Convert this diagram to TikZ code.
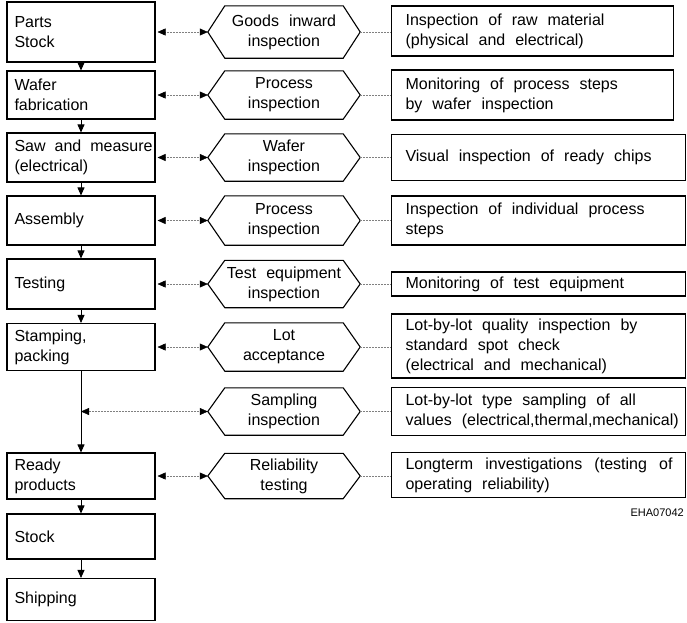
\documentclass[tikz,border=0pt]{standalone}
\usepackage{fontspec}
\setmainfont{Liberation Sans}
\usetikzlibrary{arrows.meta}
\newcommand\diafont{\fontsize{16}{20}\selectfont\spaceskip=10pt plus 2pt minus 1pt\relax}
\begin{document}
\begin{tikzpicture}[x=1pt,y=-1pt,
  every node/.style={font=\diafont},
  lbox/.style={draw, line width=1.1pt, text width=148pt, inner xsep=0pt, inner ysep=0pt, align=left,
     execute at begin node={\leftskip=7.5pt\spaceskip=9pt plus 2pt minus 1pt\relax}},
  hexa/.style={minimum width=118pt, inner sep=0pt, align=center},
  rboxa/.style={draw, line width=1.1pt, anchor=west, text width=282pt, inner xsep=0pt, inner ysep=0pt, align=left,
     execute at begin node={\leftskip=14pt\spaceskip=10pt plus 2pt minus 1pt\relax}},
  rboxb/.style={rboxa, text width=294pt},
  hexline/.style={line width=1.1pt, line join=miter},
  flow/.style={line width=0.8pt, -{Triangle[length=8pt,width=7pt]}},
  dbl/.style={gray, line width=0.5pt, densely dotted, shorten <=2pt,
     {Triangle[length=8pt,width=7pt,color=black]}-{Triangle[length=8pt,width=7pt,color=black]}},
  lnk/.style={gray, line width=0.5pt, dash pattern=on 2pt off 1pt}
]
\useasboundingbox (0,0) rectangle (687,622);

% left column
\node[lbox, minimum height=60pt] (b1) at (81,32) {Parts\\Stock};
\node[lbox, minimum height=48pt] (b2) at (81,95) {Wafer\\fabrication};
\node[lbox, minimum height=49pt] (b3) at (81,157.5) {Saw and measure\\(electrical)};
\node[lbox, minimum height=49pt] (b4) at (81,220.5) {Assembly};
\node[lbox, minimum height=50pt] (b5) at (81,284) {Testing};
\node[lbox, minimum height=47pt] (b6) at (81,347) {Stamping,\\packing};
\node[lbox, minimum height=46pt] (b8) at (81,476) {Ready\\products};
\node[lbox, minimum height=45pt] (b9) at (81,536.5) {Stock};
\node[lbox, minimum height=42pt] (b10) at (81,599.5) {Shipping};

% hexagons
\node[hexa, minimum height=52pt] (h1) at (284,32) {Goods inward\\inspection};
\node[hexa, minimum height=48pt] (h2) at (284,95) {Process\\inspection};
\node[hexa, minimum height=47pt] (h3) at (284,157.5) {Wafer\\inspection};
\node[hexa, minimum height=49pt] (h4) at (284,220.5) {Process\\inspection};
\node[hexa, minimum height=47pt] (h5) at (284,284) {Test equipment\\inspection};
\node[hexa, minimum height=48pt] (h6) at (284,347) {Lot\\acceptance};
\node[hexa, minimum height=47pt] (h7) at (284,411.5) {Sampling\\inspection};
\node[hexa, minimum height=45pt] (h8) at (284,476) {Reliability\\testing};

\foreach \n in {h1,h2,h3,h4,h5,h6,h7,h8}{
  \draw[hexline] (\n.north west) -- (\n.north east) -- ([xshift=17pt]\n.east) coordinate (\n-r)
    -- (\n.south east) -- (\n.south west) -- ([xshift=-17pt]\n.west) coordinate (\n-l) -- cycle;
}

% right boxes
\node[rboxa, minimum height=50pt] (r1) at (391,31) {Inspection of raw material\\(physical and electrical)};
\node[rboxa, minimum height=50pt] (r2) at (391,95) {Monitoring of process steps\\by wafer inspection};
\node[rboxb, minimum height=46pt] (r3) at (391,157.5) {Visual inspection of ready chips};
\node[rboxb, minimum height=49pt] (r4) at (391,220.5) {Inspection of individual process\\steps};
\node[rboxb, minimum height=24pt] (r5) at (391,284) {Monitoring of test equipment};
\node[rboxb, minimum height=64pt] (r6) at (391,346) {Lot-by-lot quality inspection by\\standard spot check\\(electrical and mechanical)};
\node[rboxb, minimum height=48pt] (r7) at (391,411.5) {Lot-by-lot type sampling of all\\values (electrical,thermal,mechanical)};
\node[rboxb, minimum height=45pt] (r8) at (391,475) {\hbox to 267pt{Longterm\hfill investigations\hfill (testing\hfill of}\\operating reliability)};

\node[anchor=east, inner sep=0pt, font=\fontsize{11}{13}\selectfont] (code) at (684,513) {EHA07042};

% flow arrows
\draw[flow] (b1.south) -- (b2.north);
\draw[flow] (b2.south) -- (b3.north);
\draw[flow] (b3.south) -- (b4.north);
\draw[flow] (b4.south) -- (b5.north);
\draw[flow] (b5.south) -- (b6.north);
\draw[flow] (b6.south) -- (b8.north);
\draw[flow] (b8.south) -- (b9.north);
\draw[flow] (b9.south) -- (b10.north);

% box to hexagon
\draw[dbl] (b1.east) -- (h1-l);
\draw[dbl] (b2.east) -- (h2-l);
\draw[dbl] (b3.east) -- (h3-l);
\draw[dbl] (b4.east) -- (h4-l);
\draw[dbl] (b5.east) -- (h5-l);
\draw[dbl] (b6.east) -- (h6-l);
\coordinate (v7) at (b6.south |- h7-l);
\draw[dbl, shorten <=0pt] (v7) -- (h7-l);
\draw[dbl] (b8.east) -- (h8-l);

% hexagon to right boxes
\foreach \i in {1,...,8}{
  \draw[lnk] (h\i-r) -- (h\i-r -| r\i.west);
}
\end{tikzpicture}
\end{document}
